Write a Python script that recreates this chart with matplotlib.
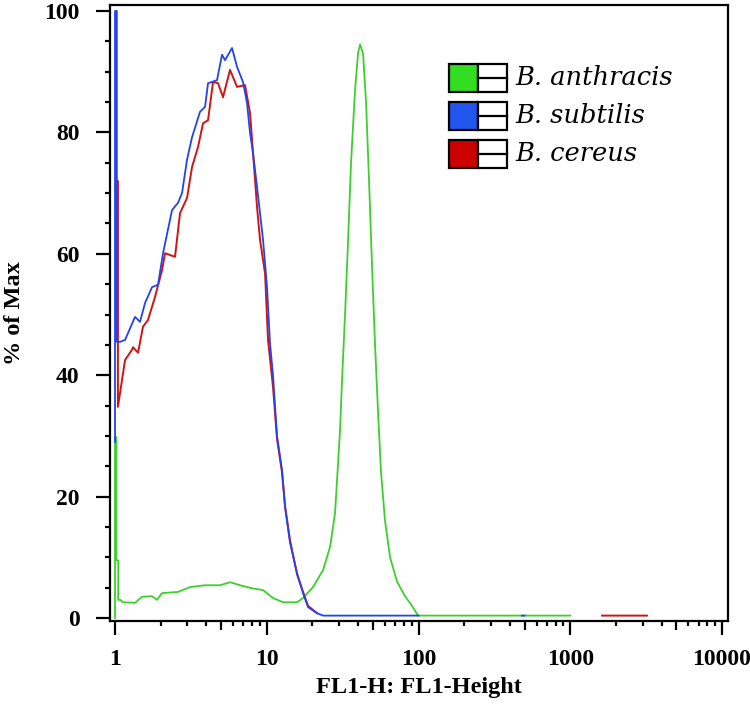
import numpy as np
import matplotlib
matplotlib.use("Agg")
import matplotlib.pyplot as plt
from matplotlib.patches import Rectangle
from matplotlib.lines import Line2D
from matplotlib.ticker import FixedLocator, NullFormatter

# ---- data (FL1 channel vs % of max) ----
nan = np.nan

anthracis_x = [1.0, 1.0, 1.02, 1.02, 1.05, 1.05, 1.079, 1.129, 1.354, 1.506, 1.753, 1.891,
               2.04, 2.601, 3.121, 3.918, 4.919, 5.726, 6.664, 7.995, 9.447, 10.99, 12.8,
               15.83, 17.34, 20.17, 23.48, 26.12, 28.17, 29.04, 30.39, 31.33, 32.79, 34.31,
               35.91, 38.16, 39.94, 41.17, 43.09, 45.09, 47.19, 49.39, 51.69, 54.09, 56.6,
               60.14, 64.9, 72.17, 81.47, 90.63, 99.2, 1000]
anthracis_y = [0, 29.8, 29.8, 9.5, 9.5, 3.0, 3.0, 2.6, 2.5, 3.5, 3.6, 3.0,
               4.1, 4.3, 5.1, 5.4, 5.4, 5.9, 5.4, 4.9, 4.6, 3.3, 2.6,
               2.6, 3.3, 5.1, 7.9, 11.7, 17.3, 22.7, 31.0, 39.2, 50.0, 62.0,
               75.0, 87.0, 93.0, 94.5, 93.0, 85.0, 72.0, 58.0, 45.0, 34.0, 24.0,
               16.0, 10.0, 6.0, 3.6, 2.0, 0.4, 0.4]

subtilis_x = [1.0, 1.0, 1.028, 1.028, 1.079, 1.164, 1.354, 1.461, 1.577, 1.753, 1.92, 2.072,
              2.375, 2.601, 2.764, 2.982, 3.217, 3.632, 3.918, 4.101, 4.7, 5.071, 5.307,
              5.902, 6.368, 6.974, 7.412, 7.756, 8.118, 8.627, 9.027, 9.447, 10.04, 10.5,
              10.99, 11.68, 12.6, 13.19, 14.23, 15.83, 17.34, 18.7, 21.43, 23.48, 100,
              nan, 480, 500]
subtilis_y = [29.0, 100, 100, 45.5, 45.5, 45.8, 49.6, 48.8, 51.9, 54.5, 54.9, 60.1,
              67.2, 68.4, 70.0, 75.5, 79.2, 83.4, 84.2, 88.1, 88.6, 92.8, 91.9,
              93.9, 90.8, 88.3, 84.8, 79.9, 76.6, 71.0, 66.7, 62.3, 54.5, 45.3,
              40.0, 30.0, 24.4, 18.3, 12.4, 7.4, 4.1, 1.8, 0.8, 0.4, 0.4,
              nan, 0.4, 0.4]

cereus_x = [1.018, 1.018, 1.045, 1.045, 1.045, 1.045, 1.112, 1.164, 1.294, 1.314, 1.418, 1.529,
            1.65, 1.835, 2.04, 2.136, 2.485, 2.681, 2.982, 3.217, 3.524, 3.801, 4.101, 4.424,
            4.772, 5.148, 5.726, 6.368, 7.19, 7.756, 8.118, 8.627, 9.027, 9.739, 10.19, 10.99,
            11.68, 12.6, 13.19, 14.23, 15.83, 17.34, 18.7, 21.43,
            nan, 1620, 3200]
cereus_y = [67.0, 72.0, 72.0, 67.0, 67.0, 34.8, 39.2, 42.5, 44.2, 44.6, 43.7, 48.0,
            49.1, 52.9, 57.3, 60.1, 59.5, 66.7, 69.2, 74.3, 77.6, 81.5, 82.0, 88.3,
            88.1, 85.8, 90.3, 87.5, 87.8, 83.2, 76.6, 67.7, 62.3, 56.8, 45.8, 38.1,
            29.5, 24.0, 18.5, 12.8, 7.2, 4.3, 2.0, 0.8,
            nan, 0.4, 0.4]

labels = ["B. anthracis", "B. subtilis", "B. cereus"]
colors = ["#3cd02c", "#2244ee", "#d01414"]
swatch_colors = ["#33dd22", "#2255ee", "#cc0000"]

x_ticks = [1, 10, 100, 1000, 10000]
x_ticklabels = ["1", "10", "100", "1000", "10000"]
y_ticks = [0, 20, 40, 60, 80, 100]

plt.rcParams["font.family"] = ["Liberation Serif", "DejaVu Serif"]

fig = plt.figure(figsize=(7.5, 7.12), dpi=100)
ax = fig.add_axes([0.1467, 0.1278, 0.824, 0.8652])

# blue on top, as in the original
ax.plot(anthracis_x, anthracis_y, color=colors[0], lw=1.3)
ax.plot(cereus_x, cereus_y, color=colors[2], lw=1.4)
ax.plot(subtilis_x, subtilis_y, color=colors[1], lw=1.3)

ax.set_xscale("log")
ax.set_xlim(0.927, 10950)
ax.set_ylim(-0.49, 100.99)

# ticks
ax.xaxis.set_major_locator(FixedLocator(x_ticks))
ax.set_xticklabels(x_ticklabels)
minor_x = [m * 10 ** d for d in range(4) for m in (2, 3, 4, 6, 7, 8, 9)]
ax.xaxis.set_minor_locator(FixedLocator(minor_x))
ax.xaxis.set_minor_formatter(NullFormatter())
ax.yaxis.set_major_locator(FixedLocator(y_ticks))
ax.yaxis.set_minor_locator(FixedLocator(list(range(5, 100, 5))))

ax.tick_params(which="major", length=10, width=1.6, direction="out", labelsize=17)
ax.tick_params(which="minor", length=3.8, width=1.6, direction="out")
ax.tick_params(axis="y", which="major", pad=12)
ax.tick_params(axis="x", which="major", pad=10)
for lab in ax.get_xticklabels() + ax.get_yticklabels():
    lab.set_fontweight("bold")

# the "5" ticks are a bit longer
sec = ax.secondary_xaxis("bottom")
sec.set_xticks([5, 50, 500, 5000])
sec.set_xticklabels([])
sec.tick_params(length=6.5, width=1.6)
sec.spines["bottom"].set_visible(False)

for s in ax.spines.values():
    s.set_linewidth(1.6)

ax.set_xlabel("FL1-H: FL1-Height", fontsize=17.5, fontweight="bold", labelpad=5)
ax.set_ylabel("% of Max", fontsize=17.5, fontweight="bold", labelpad=14)

# legend: color square + small box with a dash, then italic name
sw_x, sw_w, sw_h = 0.5485, 0.0469, 0.0455
row_y = [0.8815, 0.8198, 0.7581]
for lab, c, yc in zip(labels, swatch_colors, row_y):
    ax.add_patch(Rectangle((sw_x, yc - sw_h / 2), sw_w, sw_h, transform=ax.transAxes,
                           facecolor=c, edgecolor="black", lw=1.6, zorder=5))
    ax.add_patch(Rectangle((sw_x + sw_w, yc - sw_h / 2), sw_w, sw_h, transform=ax.transAxes,
                           facecolor="white", edgecolor="black", lw=1.6, zorder=5))
    ax.add_line(Line2D([sw_x + sw_w, sw_x + 2 * sw_w], [yc, yc], transform=ax.transAxes,
                       color="black", lw=1.6, zorder=6))
    ax.text(0.6553, yc, lab, transform=ax.transAxes, va="center", ha="left",
            fontsize=18.5, style="italic", family=["DejaVu Serif"])

fig.savefig("out.png", dpi=100)
